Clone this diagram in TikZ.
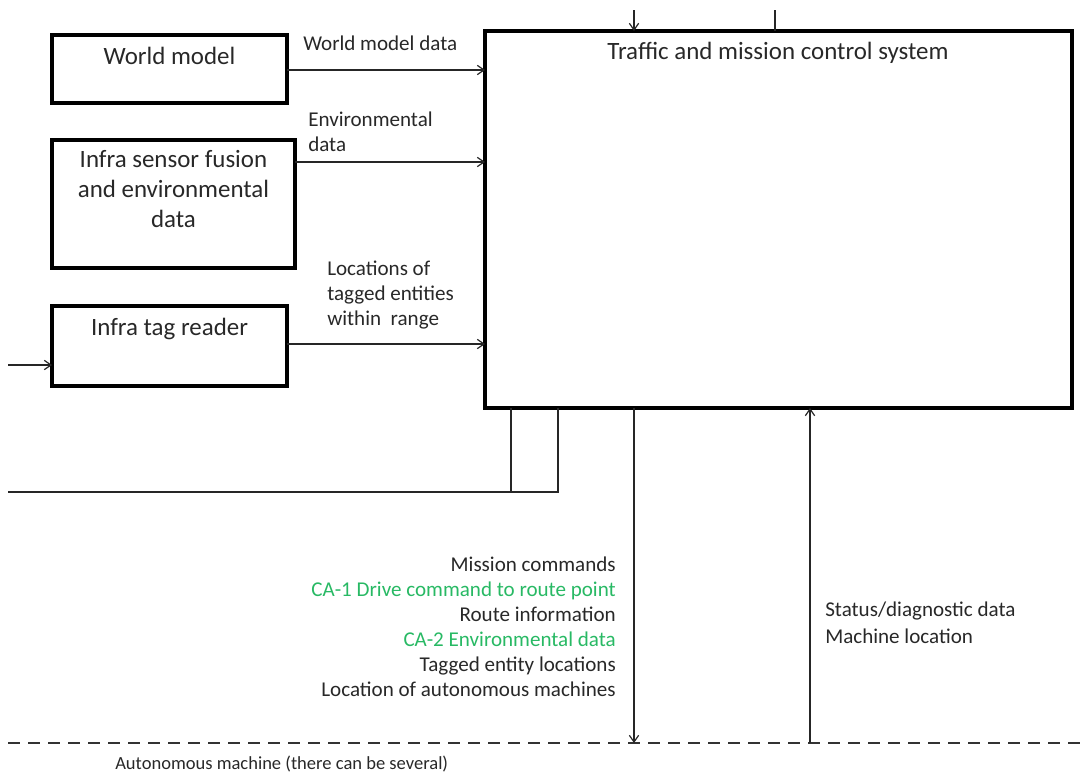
\documentclass[tikz,border=0pt]{standalone}
\usepackage{fontspec}
\setmainfont{Carlito}
\usetikzlibrary{arrows.meta}
\definecolor{txt}{RGB}{40,40,40}
\definecolor{cagreen}{RGB}{40,185,100}
\tikzset{
  px/.style={x=0.75pt,y=-0.75pt},
  block/.style={draw=black,line width=2.5pt,inner sep=0pt},
  flow/.style={draw=black!85,line width=1.1pt},
  arr/.style={flow,-{Straight Barb[length=5pt,width=7pt,line width=0.9pt]}},
  boxtext/.style={font=\fontsize{18.7}{22.2}\selectfont,text=txt,align=center,inner sep=0pt},
  lbl/.style={font=\fontsize{15.8}{18.75}\selectfont,text=txt,inner sep=0pt},
}
\begin{document}
\begin{tikzpicture}[px]
\useasboundingbox (0,0) rectangle (1087,775);
% blocks (multi-line nodes are placed by the baseline of their last line)
\draw[block] (52,35) rectangle (287,103);
\node[boxtext,anchor=base] (wm) at (169.5,64) {World model};
\coordinate (wmE) at (287,70);
\draw[block] (52,140) rectangle (295,268);
\node[boxtext,anchor=base] (isf) at (173.5,227) {Infra sensor fusion\\and environmental\\data};
\coordinate (isfE) at (295,162);
\draw[block] (52,306) rectangle (287,386);
\node[boxtext,anchor=base] (itr) at (169.5,335) {Infra tag reader};
\coordinate (itrE) at (287,344);
\coordinate (itrW) at (52,365);
\draw[block] (485,31) rectangle (1072,408);
\node[boxtext,anchor=base] (tmc) at (778,59) {Traffic and mission control system};
% entry points on the control system
\coordinate (inWM) at (485,70);
\coordinate (inENV) at (485,162);
\coordinate (inTAG) at (485,344);
\coordinate (topA) at (634,31);
\coordinate (topB) at (775,31);
\coordinate (botA) at (511,408);
\coordinate (botB) at (558,408);
\coordinate (botC) at (634,408);
\coordinate (botD) at (810,408);
% free ends
\coordinate (topAsrc) at (634,10);
\coordinate (topBdst) at (775,10);
\coordinate (leftIn) at (8,365);
\coordinate (leftOut) at (8,492);
\coordinate (busA) at (511,492);
\coordinate (machA) at (634,743);
\coordinate (machD) at (810,743);
% machine boundary
\draw[draw=black!80,line width=1.1pt,dash pattern=on 9pt off 6pt] (8,743) -- (1080,743);
\node[lbl,font=\fontsize{13.9}{19}\selectfont,anchor=base west] (am) at (115,769) {Autonomous machine (there can be several)};
% flows
\draw[arr] (wmE) -- (inWM);
\draw[arr] (isfE) -- (inENV);
\draw[arr] (itrE) -- (inTAG);
\draw[arr] (leftIn) -- (itrW);
\draw[arr] (topAsrc) -- (topA);
\draw[flow] (topB) -- (topBdst);
\draw[flow] (botB) -- (558,492) -- (leftOut);
\draw[flow] (botA) -- (busA);
\draw[arr] (botC) -- (machA);
\draw[arr] (machD) -- (botD);
% flow labels
\node[lbl,anchor=base west] (l1) at (303,50) {World model data};
\node[lbl,anchor=base west,align=left] (l2) at (308,151) {Environmental\\data};
\node[lbl,anchor=base west,align=left] (l3) at (327,325) {Locations of\\tagged entities\\within\ \ range};
\node[lbl,anchor=base east,align=right] (l4) at (616,696)
  {Mission commands\\
   \textcolor{cagreen}{CA-1 Drive command to route point}\\
   Route information\\
   \textcolor{cagreen}{CA-2 Environmental data}\\
   Tagged entity locations\\
   Location of autonomous machines};
\node[lbl,anchor=base west,align=left] (l5) at (825,643) {Status/diagnostic data\\[1pt]Machine location};
\end{tikzpicture}
\end{document}
